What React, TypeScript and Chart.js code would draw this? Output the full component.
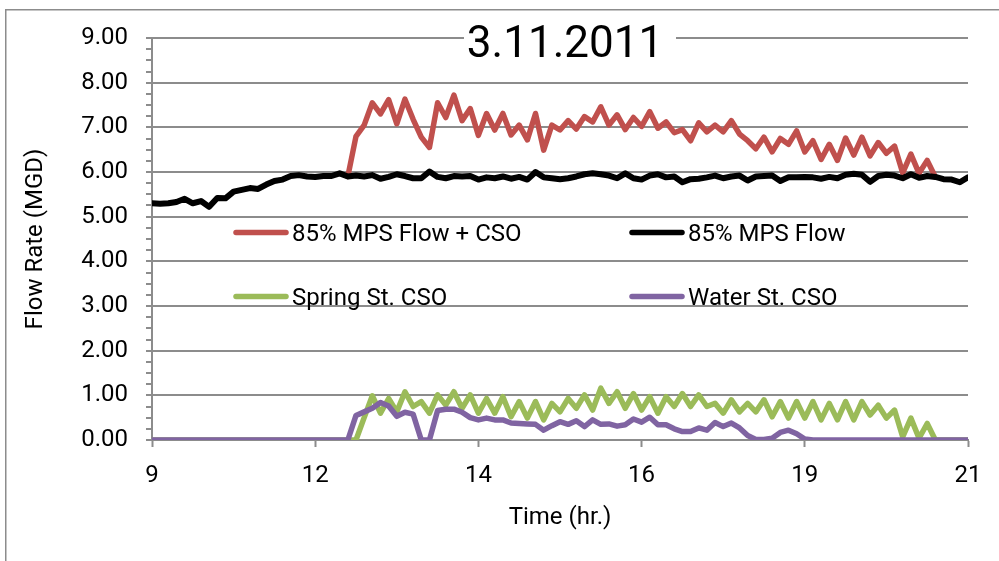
import { useEffect, useRef } from "react";
import { Chart, registerables } from "chart.js";

Chart.register(...registerables);

// 101 samples across the day, x-axis labelled every 20 samples
const TIME_LABELS = ["9", "12", "14", "16", "19", "21"];
const LABEL_EVERY = 20;

const MPS_FLOW = [
  5.30, 5.29, 5.30, 5.33, 5.40, 5.30, 5.35, 5.22, 5.42, 5.41,
  5.56, 5.60, 5.64, 5.62, 5.72, 5.80, 5.83, 5.91, 5.93, 5.90,
  5.89, 5.91, 5.91, 5.97, 5.90, 5.92, 5.90, 5.93, 5.85, 5.89,
  5.95, 5.91, 5.86, 5.86, 6.01, 5.89, 5.86, 5.91, 5.90, 5.91,
  5.83, 5.88, 5.86, 5.90, 5.85, 5.89, 5.83, 6.00, 5.88, 5.86,
  5.84, 5.86, 5.90, 5.95, 5.97, 5.95, 5.92, 5.86, 5.97, 5.86,
  5.83, 5.92, 5.95, 5.88, 5.90, 5.77, 5.84, 5.85, 5.88, 5.92,
  5.86, 5.90, 5.92, 5.81, 5.90, 5.91, 5.92, 5.80, 5.88, 5.88,
  5.89, 5.88, 5.85, 5.89, 5.86, 5.94, 5.96, 5.94, 5.78, 5.91,
  5.94, 5.92, 5.86, 5.95, 5.87, 5.91, 5.89, 5.84, 5.83, 5.77,
  5.88,
];

const MPS_FLOW_CSO = [
  null, null, null, null, null, null, null, null, null, null,
  null, null, null, null, null, null, null, null, null, null,
  null, null, null, null, 5.90, 6.80, 7.05, 7.55, 7.30, 7.62,
  7.08, 7.63, 7.18, 6.78, 6.55, 7.55, 7.22, 7.72, 7.15, 7.42,
  6.82, 7.31, 6.94, 7.31, 6.83, 7.05, 6.72, 7.31, 6.49, 7.05,
  6.94, 7.15, 6.96, 7.24, 7.12, 7.46, 7.05, 7.28, 6.95, 7.22,
  7.02, 7.35, 6.98, 7.12, 6.88, 6.95, 6.70, 7.10, 6.90, 7.05,
  6.90, 7.15, 6.85, 6.70, 6.52, 6.78, 6.45, 6.75, 6.62, 6.92,
  6.45, 6.70, 6.28, 6.62, 6.26, 6.76, 6.38, 6.78, 6.36, 6.66,
  6.42, 6.58, 5.98, 6.40, 5.97, 6.26, 5.89, null, null, null,
  null,
];

const SPRING_CSO = [
  0, 0, 0, 0, 0, 0, 0, 0, 0, 0,
  0, 0, 0, 0, 0, 0, 0, 0, 0, 0,
  0, 0, 0, 0, 0, 0, 0.50, 0.99, 0.60, 0.93,
  0.63, 1.08, 0.75, 0.86, 0.60, 1.01, 0.78, 1.08, 0.71, 1.01,
  0.60, 0.93, 0.60, 0.97, 0.52, 0.86, 0.49, 0.86, 0.45, 0.82,
  0.63, 0.93, 0.71, 1.01, 0.67, 1.16, 0.82, 1.08, 0.71, 1.04,
  0.67, 0.97, 0.60, 0.97, 0.75, 1.04, 0.75, 1.01, 0.75, 0.82,
  0.60, 0.90, 0.63, 0.82, 0.63, 0.90, 0.52, 0.86, 0.49, 0.86,
  0.49, 0.86, 0.45, 0.82, 0.45, 0.86, 0.45, 0.86, 0.56, 0.78,
  0.49, 0.67, 0.07, 0.49, 0.04, 0.37, 0, 0, 0, 0,
  0,
];

const WATER_CSO = [
  0, 0, 0, 0, 0, 0, 0, 0, 0, 0,
  0, 0, 0, 0, 0, 0, 0, 0, 0, 0,
  0, 0, 0, 0, 0, 0.55, 0.63, 0.71, 0.84, 0.76,
  0.53, 0.62, 0.58, 0, 0, 0.66, 0.69, 0.69, 0.62, 0.50,
  0.45, 0.49, 0.45, 0.45, 0.38, 0.37, 0.36, 0.35, 0.22, 0.32,
  0.41, 0.35, 0.43, 0.30, 0.45, 0.35, 0.36, 0.31, 0.34, 0.47,
  0.40, 0.51, 0.34, 0.34, 0.25, 0.19, 0.19, 0.27, 0.22, 0.39,
  0.30, 0.38, 0.27, 0.10, 0.01, 0.01, 0.04, 0.17, 0.22, 0.14,
  0.02, 0, 0, 0, 0, 0, 0, 0, 0, 0,
  0, 0, 0, 0, 0, 0, 0, 0, 0, 0,
  0,
];

const SERIES_NAMES = ["85% MPS Flow + CSO", "85% MPS Flow", "Spring St. CSO", "Water St. CSO"];
const SERIES_COLORS = ["#C0504D", "#000000", "#9BBB59", "#8064A2"];
const CHART_TITLE = "3.11.2011";
const X_TITLE = "Time (hr.)";
const Y_TITLE = "Flow Rate (MGD)";

const FONT_FAMILY = "Roboto, 'Open Sans', 'DejaVu Sans', sans-serif";
const GRID_COLOR = "#8c8c8c";
const TEXT_COLOR = "#000000";

const toPoints = (values: (number | null)[]) => values.map((v, i) => ({ x: i, y: v }));

// Outer frame, title over the top gridline and the 2x2 legend inside the plot
const decorations = {
  id: "decorations",
  beforeDraw(chart: Chart) {
    const ctx = chart.ctx;
    ctx.save();
    ctx.fillStyle = "#ffffff";
    ctx.fillRect(0, 0, chart.width, chart.height);
    ctx.strokeStyle = GRID_COLOR;
    ctx.lineWidth = 1.5;
    ctx.strokeRect(5.75, 9.75, chart.width + 50, chart.height + 50);
    ctx.restore();
  },
  afterDraw(chart: Chart) {
    const { ctx, chartArea } = chart;
    const { left, top, right } = chartArea;
    const cx = (left + right) / 2;
    ctx.save();

    // title box
    ctx.fillStyle = "#ffffff";
    ctx.fillRect(cx - 96, top - 20, 212, 40);
    ctx.fillStyle = TEXT_COLOR;
    ctx.font = `44px ${FONT_FAMILY}`;
    ctx.textAlign = "center";
    ctx.textBaseline = "alphabetic";
    ctx.fillText(CHART_TITLE, cx + 5, top + 18.5);

    // legend
    const cols = [left + 82, left + 478];
    const rows = [top + 194.5, top + 258.5];
    ctx.font = `24px ${FONT_FAMILY}`;
    ctx.textAlign = "left";
    SERIES_NAMES.forEach((name, k) => {
      const x = cols[k % 2];
      const y = rows[Math.floor(k / 2)];
      ctx.strokeStyle = SERIES_COLORS[k];
      ctx.lineWidth = 5.5;
      ctx.lineCap = "round";
      ctx.beginPath();
      ctx.moveTo(x + 2, y);
      ctx.lineTo(x + 52, y);
      ctx.stroke();
      ctx.fillStyle = TEXT_COLOR;
      ctx.fillText(name, x + 58, y + 8);
    });
    ctx.restore();
  },
};

export default function App() {
  const canvasRef = useRef<HTMLCanvasElement>(null);

  useEffect(() => {
    const canvas = canvasRef.current;
    if (!canvas) return;

    const seriesValues = [MPS_FLOW_CSO, MPS_FLOW, SPRING_CSO, WATER_CSO];
    // later series sit on top: lower order is drawn last
    const drawOrder = [4, 3, 2, 1];

    const chart = new Chart(canvas, {
      type: "line",
      data: {
        datasets: seriesValues.map((values, k) => ({
          label: SERIES_NAMES[k],
          data: toPoints(values),
          borderColor: SERIES_COLORS[k],
          backgroundColor: SERIES_COLORS[k],
          borderWidth: k === 1 ? 6 : 5.5,
          pointRadius: 0,
          tension: 0,
          fill: false,
          spanGaps: false,
          borderJoinStyle: "round" as const,
          borderCapStyle: "round" as const,
          order: drawOrder[k],
        })),
      },
      options: {
        animation: false,
        responsive: false,
        devicePixelRatio: 1,
        layout: { padding: { left: 0, top: 38, right: 31, bottom: 0 } },
        plugins: {
          legend: { display: false },
          title: { display: false },
          tooltip: { enabled: false },
        },
        scales: {
          x: {
            type: "linear",
            min: 0,
            max: (TIME_LABELS.length - 1) * LABEL_EVERY,
            afterFit: (scale: any) => {
              scale.height = 121;
            },
            grid: {
              drawOnChartArea: false,
              drawTicks: true,
              tickLength: 7,
              tickColor: GRID_COLOR,
              tickWidth: 2,
            },
            border: { display: true, color: GRID_COLOR, width: 2 },
            ticks: {
              stepSize: LABEL_EVERY,
              autoSkip: false,
              maxRotation: 0,
              padding: 15,
              color: TEXT_COLOR,
              font: { family: FONT_FAMILY, size: 24 },
              callback: (value: any) => TIME_LABELS[Math.round(Number(value) / LABEL_EVERY)] ?? "",
            },
            title: {
              display: true,
              text: X_TITLE,
              color: TEXT_COLOR,
              font: { family: FONT_FAMILY, size: 24 },
              padding: { top: 0, bottom: 29 },
            },
          },
          y: {
            min: 0,
            max: 9,
            afterFit: (scale: any) => {
              scale.width = 152;
            },
            grid: {
              color: (ctx: any) => {
                const v = ctx.tick ? ctx.tick.value : 0;
                return Math.abs(v - Math.round(v)) < 1e-6 ? GRID_COLOR : "rgba(0,0,0,0)";
              },
              lineWidth: 2,
              drawTicks: true,
              tickLength: 6,
              tickColor: GRID_COLOR,
              tickWidth: 2,
            },
            border: { display: true, color: GRID_COLOR, width: 2 },
            ticks: {
              stepSize: 0.25,
              autoSkip: false,
              padding: 18,
              color: TEXT_COLOR,
              font: { family: FONT_FAMILY, size: 24 },
              callback: (value: any) => {
                const v = Number(value);
                return Math.abs(v - Math.round(v)) < 1e-6 ? v.toFixed(2) : "";
              },
            },
            title: {
              display: true,
              text: Y_TITLE,
              color: TEXT_COLOR,
              font: { family: FONT_FAMILY, size: 24 },
              padding: { top: 22, bottom: 0 },
            },
          },
        },
      },
      plugins: [decorations],
    });

    return () => chart.destroy();
  }, []);

  return (
    <div style={{ position: "fixed", left: 0, top: 0, width: 999, height: 561, background: "#ffffff" }}>
      <canvas ref={canvasRef} width={999} height={561} style={{ display: "block" }} />
    </div>
  );
}
